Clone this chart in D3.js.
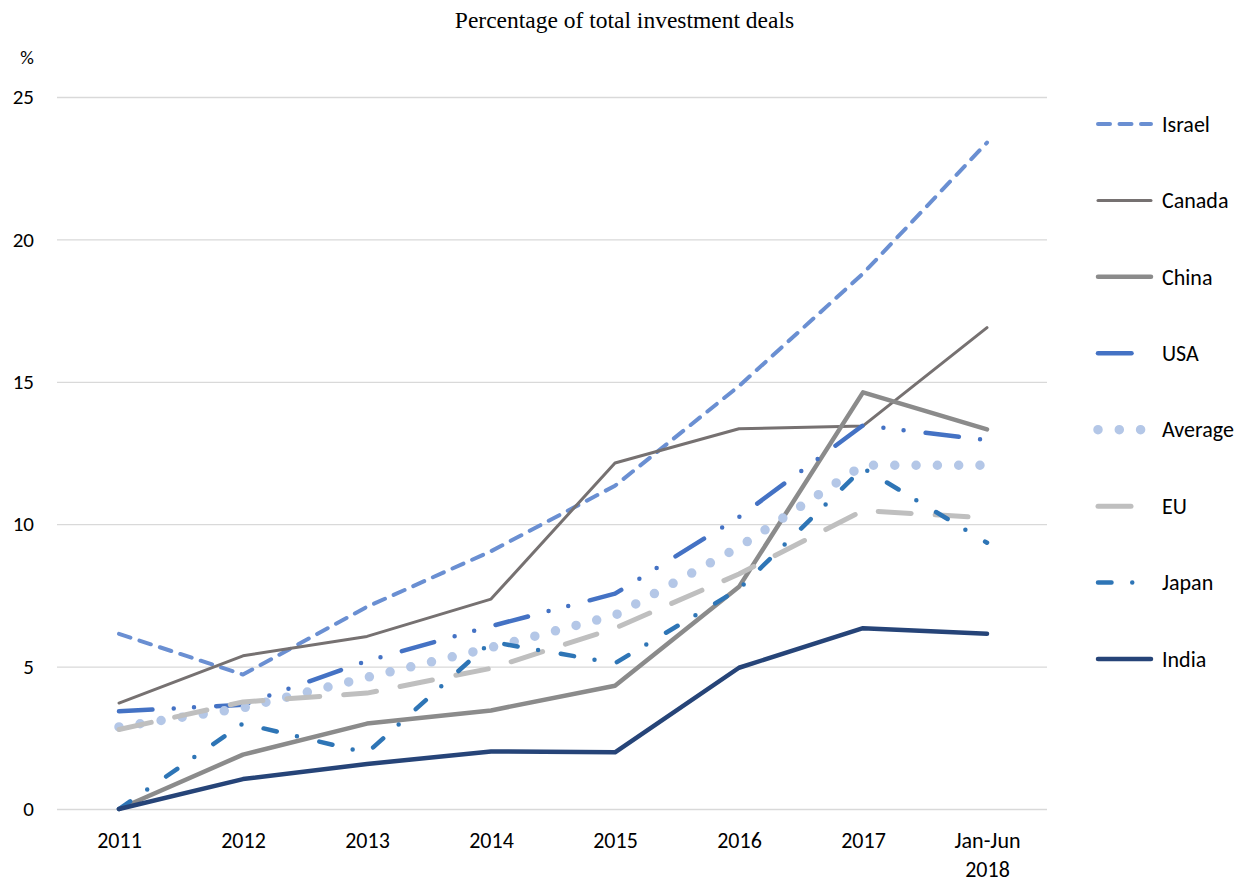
<!DOCTYPE html>
<html><head><meta charset="utf-8">
<script src="https://cdn.jsdelivr.net/npm/d3@7"></script>
<style>
body{margin:0;background:#fff;}
svg{display:block;}
text{font-family:Carlito,Calibri,Lato,sans-serif;fill:#000;}
</style></head>
<body><svg id="c" width="1249" height="882"></svg>
<script>
const categories = ["2011","2012","2013","2014","2015","2016","2017","Jan-Jun\n2018"];
const yTicks = [0,5,10,15,20,25];
const seriesNames = ["Israel","Canada","China","USA","Average","EU","Japan","India"];
const israel  = [6.15, 4.72, 7.1, 9.05, 11.35, 14.85, 18.8, 23.4];
const canada  = [3.72, 5.38, 6.06, 7.37, 12.15, 13.35, 13.45, 16.9];
const china   = [0, 1.91, 3.0, 3.46, 4.33, 7.8, 14.63, 13.33];
const usa     = [3.43, 3.66, 5.2, 6.42, 7.56, 10.25, 13.47, 12.95];
const average = [2.88, 3.55, 4.62, 5.67, 6.8, 9.2, 12.07, 12.07];
const eu      = [2.79, 3.76, 4.07, 4.94, 6.35, 8.25, 10.48, 10.22];
const japan   = [0, 3.0, 1.97, 5.87, 5.12, 7.72, 11.97, 9.35];
const india   = [0, 1.05, 1.58, 2.02, 1.99, 4.96, 6.35, 6.15];
const seriesValues = [israel, canada, china, usa, average, eu, japan, india];

const styles = {
  Israel:  {color:"#6a8fd2", w:4,   dash:"12,9.5"},
  Canada:  {color:"#767171", w:3,   dash:null},
  China:   {color:"#8b8b8b", w:4.5, dash:null},
  USA:     {color:"#4472c4", w:4.5, dash:"33.5,21.3,0,20.3,0,22.2"},
  Average: {color:"#b4c7e7", w:9.5, dash:"0,21.3"},
  EU:      {color:"#bfbfbf", w:5,   dash:"33,24"},
  Japan:   {color:"#2e75b6", w:4.5, dash:"13.5,20.75,0,23"},
  India:   {color:"#264478", w:4.5, dash:null}
};

const svg = d3.select("#c");
const pLeft = 57, pRight = 1049, pTop = 97, pBottom = 809;
const x = d3.scalePoint().domain(categories).range([pLeft, pRight]).padding(0.5);
const y = d3.scaleLinear().domain([0,25]).range([pBottom, pTop]);

// title
svg.append("text").attr("x", 624.5).attr("y", 28).attr("text-anchor","middle")
  .style("font-family","'Liberation Serif','Times New Roman',serif").style("font-size","23.5px")
  .text("Percentage of total investment deals");
svg.append("text").attr("x", 27).attr("y", 64).attr("text-anchor","middle")
  .style("font-size","19px").text("%");

// y axis + grid
const ya = svg.append("g").attr("transform",`translate(${pLeft},0)`)
  .call(d3.axisLeft(y).tickValues(yTicks).tickSize(-(pRight-pLeft-2)).tickPadding(23).tickFormat(d3.format("d")));
ya.select(".domain").remove();
ya.selectAll(".tick line").attr("stroke","#d9d9d9").attr("stroke-width",1.3);
ya.selectAll(".tick text").style("font-size","21px").style("font-family","Carlito,Calibri,Lato,sans-serif").attr("fill","#000");

// x axis labels
const xa = svg.append("g").attr("transform",`translate(0,${pBottom})`)
  .call(d3.axisBottom(x).tickSize(0).tickPadding(0).tickFormat(""));
xa.select(".domain").remove();
xa.selectAll(".tick").each(function(d){
  const lines = d.split("\n");
  const t = d3.select(this).append("text").attr("text-anchor","middle")
    .style("font-size","22px").attr("fill","#000");
  lines.forEach((s,i)=>t.append("tspan").attr("x",0).attr("y",39 + i*29).text(s));
});

// lines
const line = d3.line().x((d,i)=>x(categories[i])).y(d=>y(d));
seriesNames.forEach((name, k)=>{
  const st = styles[name];
  svg.append("path").datum(seriesValues[k]).attr("d", line)
    .attr("fill","none").attr("stroke", st.color).attr("stroke-width", st.w)
    .attr("stroke-linecap","round").attr("stroke-linejoin","round")
    .attr("stroke-dasharray", st.dash);
});

// legend
const lg = svg.append("g");
const legendY = d3.scalePoint().domain(seriesNames).range([124, 659]);
seriesNames.forEach(name=>{
  const st = styles[name];
  const yy = legendY(name);
  lg.append("line").attr("x1",1098).attr("x2",1151).attr("y1",yy).attr("y2",yy)
    .attr("stroke",st.color).attr("stroke-width",st.w).attr("stroke-linecap","round")
    .attr("stroke-dasharray", st.dash);
  lg.append("text").attr("x",1162).attr("y",yy).attr("dy","0.35em")
    .style("font-size","22px").text(name);
});
</script></body></html>
